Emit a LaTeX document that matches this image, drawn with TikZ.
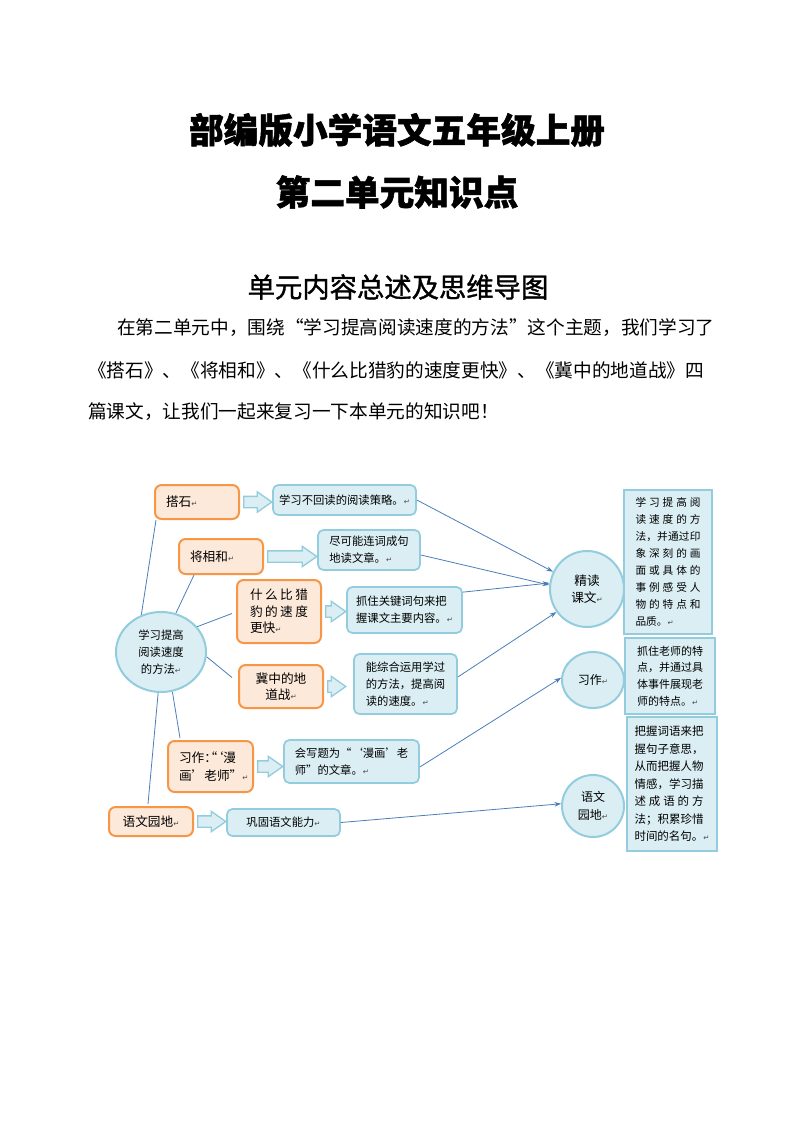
\documentclass[tikz,border=0pt]{standalone}
\usepackage{fontspec}
\setmainfont{Noto Sans CJK SC}
\newfontfamily\symfont{DejaVu Sans}
\newfontfamily\headfont[FakeBold=1.3]{Noto Sans CJK SC}
\newfontfamily\titlefont[FakeBold=1.5]{Noto Sans CJK SC}
\usetikzlibrary{shapes.geometric,shapes.arrows,arrows.meta,calc}
\pgfdeclarelayer{backdrop}\pgfdeclarelayer{bg}\pgfsetlayers{backdrop,bg,main}

\definecolor{orangeline}{HTML}{F79646}
\definecolor{orangefill}{HTML}{FDE9D9}
\definecolor{blueline}{HTML}{93CDDD}
\definecolor{bluefill}{HTML}{DAEEF3}
\definecolor{linkblue}{HTML}{4A7EBB}

\newdimen\pxu \pxu=0.75pt
\newcommand\retmark{{\symfont\fontsize{5.5}{6}\selectfont\color{black!70}↵}}
\makeatletter
\newcommand\jl[2]{\leavevmode\hbox to #1{\@tfor\jl@c:=#2\do{\jl@c\hfil}\unskip}}
\makeatother

\tikzset{
  lesson/.style={draw=orangeline, fill=orangefill, line width=1.5pt, rounded corners=5pt,
    align=left, inner xsep=11\pxu, inner ysep=0pt, font=\fontsize{9.5}{12.5}\selectfont},
  note/.style={draw=blueline, fill=bluefill, line width=1.3pt, rounded corners=4pt,
    align=left, inner sep=0pt, font=\fontsize{8.5}{12.5}\selectfont},
  topic/.style={ellipse, draw=blueline, fill=bluefill, line width=1.5pt,
    align=center, inner sep=0pt, font=\fontsize{8.5}{12.5}\selectfont},
  summary/.style={draw=blueline, fill=bluefill, line width=1.8pt,
    align=left, inner sep=0pt, font=\fontsize{8}{12.75}\selectfont},
  fatarrow/.style={single arrow, draw=blueline, fill=bluefill, line width=1pt,
    inner xsep=0pt, inner ysep=5\pxu, single arrow head extend=4.5\pxu,
    single arrow tip angle=70, anchor=tail},
  link/.style={draw=linkblue, line width=0.6pt},
  flow/.style={link, -{Stealth[length=5pt,width=3.5pt]}}
}

\newcommand\blockarrow[3][1]{%
  \path let \p1=(#2.east), \p2=(#3.west) in
    node[fatarrow, minimum height=\x2-\x1-3\pxu-#1\pxu] at (\x1+3\pxu,\y1) {};}

\begin{document}
\begin{tikzpicture}[x=0.75pt,y=-0.75pt]
  \begin{pgfonlayer}{backdrop}
    \fill[white] (0,0) rectangle (794,1123);
  \end{pgfonlayer}
  \useasboundingbox (0,0) rectangle (794,1123);

  \node[font=\fontsize{26}{30}\titlefont\bfseries] (title) at (397,130) {部编版小学语文五年级上册};
  \node[font=\fontsize{26}{30}\titlefont\bfseries] (subtitle) at (397,192) {第二单元知识点};
  \node[font=\fontsize{20.5}{24}\headfont] (heading) at (398,287) {单元内容总述及思维导图};
  \node[anchor=west, inner sep=0pt, font=\fontsize{14}{18}\selectfont] (line1) at (117,328) {在第二单元中，围绕“学习提高阅读速度的方法”这个主题，我们学习了};
  \node[anchor=west, inner sep=0pt, font=\fontsize{14}{18}\selectfont] (line2) at (88,370) {《搭石》、《将相和》、《什么比猎豹的速度更快》、《冀中的地道战》四};
  \node[anchor=west, inner sep=0pt, font=\fontsize{14}{18}\selectfont] (line3) at (88,412) {篇课文，让我们一起来复习一下本单元的知识吧！};

  \node[topic, minimum width=90\pxu, minimum height=80\pxu] (method) at (161,652) {学习提高\\阅读速度\\的方法\retmark};

  \node[lesson, text width=62\pxu, minimum height=34\pxu] (tashi) at (197,502) {搭石\retmark};
  \node[lesson, text width=62\pxu, minimum height=35\pxu] (jiang) at (221,556.5) {将相和\retmark};
  \node[lesson, text width=58\pxu, inner xsep=13\pxu, minimum height=63\pxu] (liebao) at (279,611.5)
    {\jl{58\pxu}{什么比猎}\\\jl{58\pxu}{豹的速度}\\更快\retmark};
  \node[lesson, text width=62\pxu, align=center, minimum height=43\pxu] (jizhong) at (281,686.5) {冀中的地\\道战\retmark};
  \node[lesson, text width=63\pxu, minimum height=51\pxu, font=\fontsize{9.5}{13.5}\selectfont]
    (xizuo) at (210.5,766.5) {{\addfontfeature{RawFeature=+palt}习作：“‘}漫\\画’老师”\retmark};
  \node[lesson, text width=62\pxu, align=center, minimum height=29\pxu] (yuandi) at (151,821.5) {语文园地\retmark};

  \node[note, minimum width=143\pxu, minimum height=30\pxu] (ntashi) at (344.5,500) {学习不回读的阅读策略。\retmark};
  \node[note, minimum width=102\pxu, minimum height=40\pxu] (njiang) at (369,550) {尽可能连词成句\\地读文章。\retmark};
  \node[note, minimum width=115\pxu, minimum height=46\pxu] (nliebao) at (404.5,610) {抓住关键词句来把\\握课文主要内容。\retmark};
  \node[note, minimum width=103\pxu, minimum height=60\pxu] (njizhong) at (405.5,684) {能综合运用学过\\的方法，提高阅\\读的速度。\retmark};
  \node[note, minimum width=135\pxu, minimum height=43\pxu] (nxizuo) at (351.5,761.5) {会写题为“‘漫画’老\\师”的文章。\retmark};
  \node[note, minimum width=113\pxu, minimum height=27\pxu] (nyuandi) at (283.5,822.5) {巩固语文能力\retmark};

  \blockarrow{tashi}{ntashi}
  \blockarrow{jiang}{njiang}
  \blockarrow{liebao}{nliebao}
  \blockarrow[8]{jizhong}{njizhong}
  \blockarrow{xizuo}{nxizuo}
  \blockarrow{yuandi}{nyuandi}

  \node[topic, font=\fontsize{9.5}{12.5}\selectfont, minimum width=74\pxu, minimum height=76\pxu] (cjingdu) at (587,589) {精读\\课文\retmark};
  \node[topic, font=\fontsize{9}{12.5}\selectfont, minimum width=62\pxu, minimum height=56\pxu] (cxizuo) at (593,680) {习作\retmark};
  \node[topic, font=\fontsize{9}{13.5}\selectfont, minimum width=62\pxu, minimum height=62\pxu] (cyuandi) at (593,806) {语文\\园地\retmark};

  \node[summary, minimum width=88\pxu, minimum height=144\pxu] (sjingdu) at (668,562)
    {\jl{65\pxu}{学习提高阅}\\\jl{65\pxu}{读速度的方}\\\jl{65\pxu}{法，并通过印}\\\jl{65\pxu}{象深刻的画}\\
     \jl{65\pxu}{面或具体的}\\\jl{65\pxu}{事例感受人}\\\jl{65\pxu}{物的特点和}\\品质。\retmark};
  \node[summary, font=\fontsize{8.25}{12.4}\selectfont, minimum width=90\pxu, minimum height=76\pxu] (sxizuo) at (670,676)
    {\jl{66\pxu}{抓住老师的特}\\\jl{66\pxu}{点，并通过具}\\\jl{66\pxu}{体事件展现老}\\师的特点。\retmark};
  \node[summary, font=\fontsize{8.6}{13.1}\selectfont, minimum width=90\pxu, minimum height=134\pxu] (syuandi) at (672,784)
    {\jl{69\pxu}{把握词语来把}\\\jl{69\pxu}{握句子意思，}\\\jl{69\pxu}{从而把握人物}\\\jl{69\pxu}{情感，学习描}\\
     \jl{69\pxu}{述成语的方}\\\jl{69\pxu}{法；积累珍惜}\\时间的名句。\retmark};

  \begin{pgfonlayer}{bg}
    \draw[link] (method.118) -- ($(tashi.south west)+(2,0)$);
    \draw[link] (method.69) -- ($(jiang.south west)+(16,0)$);
    \draw[link] (method.35) -- ($(liebao.west)+(-4,2)$);
    \draw[link] (method.-6) -- ($(jizhong.west)+(-6,-9)$);
    \draw[link] (method.-74) -- ($(xizuo.north west)+(13,-2)$);
    \draw[link] (method.-94) -- ($(yuandi.north west)+(40,-2)$);
  \end{pgfonlayer}

  \draw[flow] (ntashi.east) -- (cjingdu.153);
  \draw[flow] ($(njiang.east)+(0,5)$) -- (cjingdu.174);
  \draw[flow] ($(nliebao.north east)+(0,6)$) -- (cjingdu.171);
  \draw[flow] ($(njizhong.east)+(0,-7)$) -- (cjingdu.217);
  \draw[flow] ($(nxizuo.east)+(0,5.5)$) -- (cxizuo.176);
  \draw[flow] (nyuandi.east) -- (cyuandi.176);
\end{tikzpicture}
\end{document}
